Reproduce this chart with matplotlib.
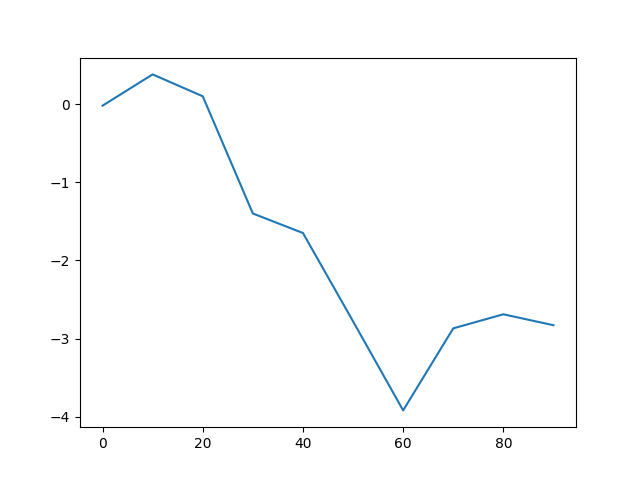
import matplotlib
matplotlib.use("Agg")
import matplotlib.pyplot as plt

x_values = [0, 10, 20, 30, 40, 50, 60, 70, 80, 90]
y_values = [-0.02, 0.38, 0.10, -1.40, -1.65, -2.78, -3.92, -2.87, -2.69, -2.83]

fig, ax = plt.subplots(figsize=(6.4, 4.8), dpi=100)
ax.plot(x_values, y_values)

fig.savefig("out.png")
